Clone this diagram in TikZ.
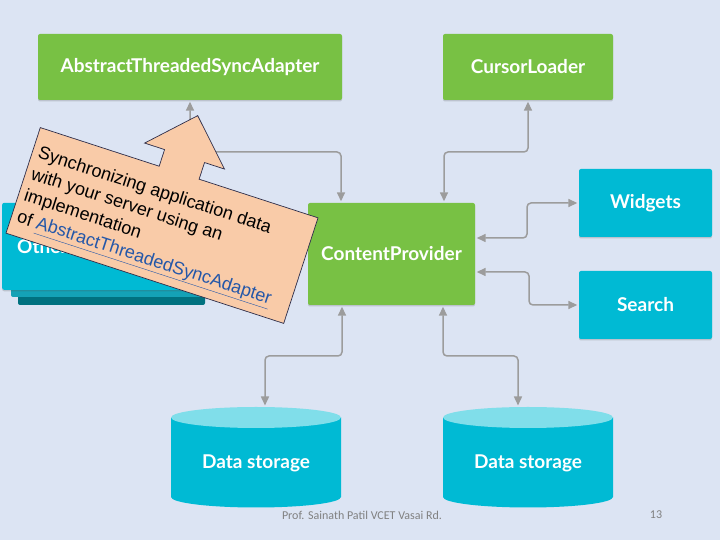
\documentclass[tikz,border=0pt]{standalone}
\usepackage{fontspec}
\setmainfont{Liberation Sans}
\newfontfamily\lblfont{Lato}
\newfontfamily\coutfont{Liberation Sans}
\newfontfamily\footfont{Carlito}
\usetikzlibrary{arrows.meta,shadows}
\definecolor{bg}{HTML}{DCE4F3}
\definecolor{grn}{HTML}{78C144}
\definecolor{cyn}{HTML}{00BAD4}
\definecolor{cyntop}{HTML}{80DEEA}
\definecolor{cyn2}{HTML}{14A2B6}
\definecolor{cyn3}{HTML}{00717F}
\definecolor{conn}{HTML}{9C9C9C}
\definecolor{peach}{HTML}{F9CBA8}
\definecolor{cedge}{HTML}{2D2D4A}
\definecolor{linkblue}{HTML}{2457A8}
\definecolor{foot}{HTML}{808080}
\begin{document}
\begin{tikzpicture}[x=1pt,y=1pt,
  lbl/.style={font=\lblfont\bfseries\fontsize{19}{23}\selectfont, text=white},
  box/.style={lbl, rounded corners=2pt, inner sep=0pt,
    drop shadow={shadow xshift=0pt,shadow yshift=-1.5pt,opacity=0.22,fill=black!70}},
  gbox/.style={box, fill=grn},
  cbox/.style={box, fill=cyn},
  wire/.style={draw=conn, line width=1.5pt, rounded corners=4pt,
    {Triangle[length=9pt,width=8pt]}-{Triangle[length=9pt,width=8pt]},
    shorten <=1.5pt, shorten >=1.5pt},
  footer/.style={font=\footfont\fontsize{12}{14}\selectfont, text=foot},
]
\useasboundingbox (0,0) rectangle (720,540);
\fill[bg] (0,0) rectangle (720,540);

% boxes
\node[gbox, minimum width=304, minimum height=66] (atsa) at (190,473) {AbstractThreadedSyncAdapter};
\node[gbox, minimum width=170, minimum height=66] (cl) at (528,473) {CursorLoader};
\node[gbox, minimum width=167, minimum height=102] (cp) at (391.5,286) {ContentProvider};
\node[cbox, minimum width=133, minimum height=68] (wd) at (645.5,337) {Widgets};
\node[cbox, minimum width=133, minimum height=68] (sr) at (645.5,235) {Search};

% other apps stack
\fill[cyn3, rounded corners=2pt] (18,235) rectangle (205,330);
\fill[cyn2, rounded corners=2pt] (11,243) rectangle (205,333);
\node[cbox, drop shadow={opacity=0}, minimum width=203, minimum height=87, anchor=south west] (oth) at (2,250) {};
\node[lbl, anchor=west, inner sep=0pt] (othtxt) at (17,292) {Other apps};

% data storage cylinders
\fill[cyn] (171,122.5) -- (171,43) arc[start angle=180,end angle=360,x radius=85,y radius=10.5] -- (341,122.5) -- cycle;
\fill[cyntop] (256,122.5) ellipse[x radius=85, y radius=10.5];
\coordinate (ds1top) at (256,133);
\node[lbl] (ds1) at (256,77) {Data storage};
\fill[cyn] (443,122.5) -- (443,43) arc[start angle=180,end angle=360,x radius=85,y radius=10.5] -- (613,122.5) -- cycle;
\fill[cyntop] (528,122.5) ellipse[x radius=85, y radius=10.5];
\coordinate (ds2top) at (528,133);
\node[lbl] (ds2) at (528,77) {Data storage};

% connectors
\coordinate (j1) at (341,388);
\draw[wire] (atsa.south) |- (j1) -- (j1 |- cp.north);
\coordinate (j2) at (444,388);
\draw[wire] (cl.south) |- (j2) -- (j2 |- cp.north);
\coordinate (j3) at (527,302);
\draw[wire] (wd.west) -| (j3) -- (j3 -| cp.east);
\coordinate (j4) at (529,268);
\draw[wire] (sr.west) -| (j4) -- (j4 -| cp.east);
\coordinate (j5) at (342,184);
\coordinate (j6) at (265,184);
\draw[wire] (j5 |- cp.south) -- (j5) -- (j6) -- (j6 |- ds1top);
\coordinate (j7) at (443,184);
\coordinate (j8) at (518,184);
\draw[wire] (j7 |- cp.south) -- (j7) -- (j8) -- (j8 |- ds2top);

% callout
\begin{scope}[shift={(162,314.5)}, rotate=-18]
\draw[fill=peach, draw=cedge, line width=0.7pt] (-146,55.5) -- (-21,55.5) -- (-21,73) -- (-42,73) -- (0,115.5) -- (42,73) -- (21,73) -- (21,55.5) -- (146,55.5) -- (146,-55.5) -- (-146,-55.5) -- cycle;
\node[anchor=north west, align=left, inner sep=0pt, transform shape,
  font=\coutfont\fontsize{18}{22.5}\selectfont] (ctext) at (-140,39)
  {Synchronizing application data\\with your server using an\\implementation\\of \textcolor{linkblue}{\underline{AbstractThreadedSyncAdapter}}};
\end{scope}

% footer
\node[footer] (foottxt) at (362,25) {Prof. Sainath Patil VCET Vasai Rd.};
\node[footer] (pg) at (656,25) {13};
\end{tikzpicture}
\end{document}
